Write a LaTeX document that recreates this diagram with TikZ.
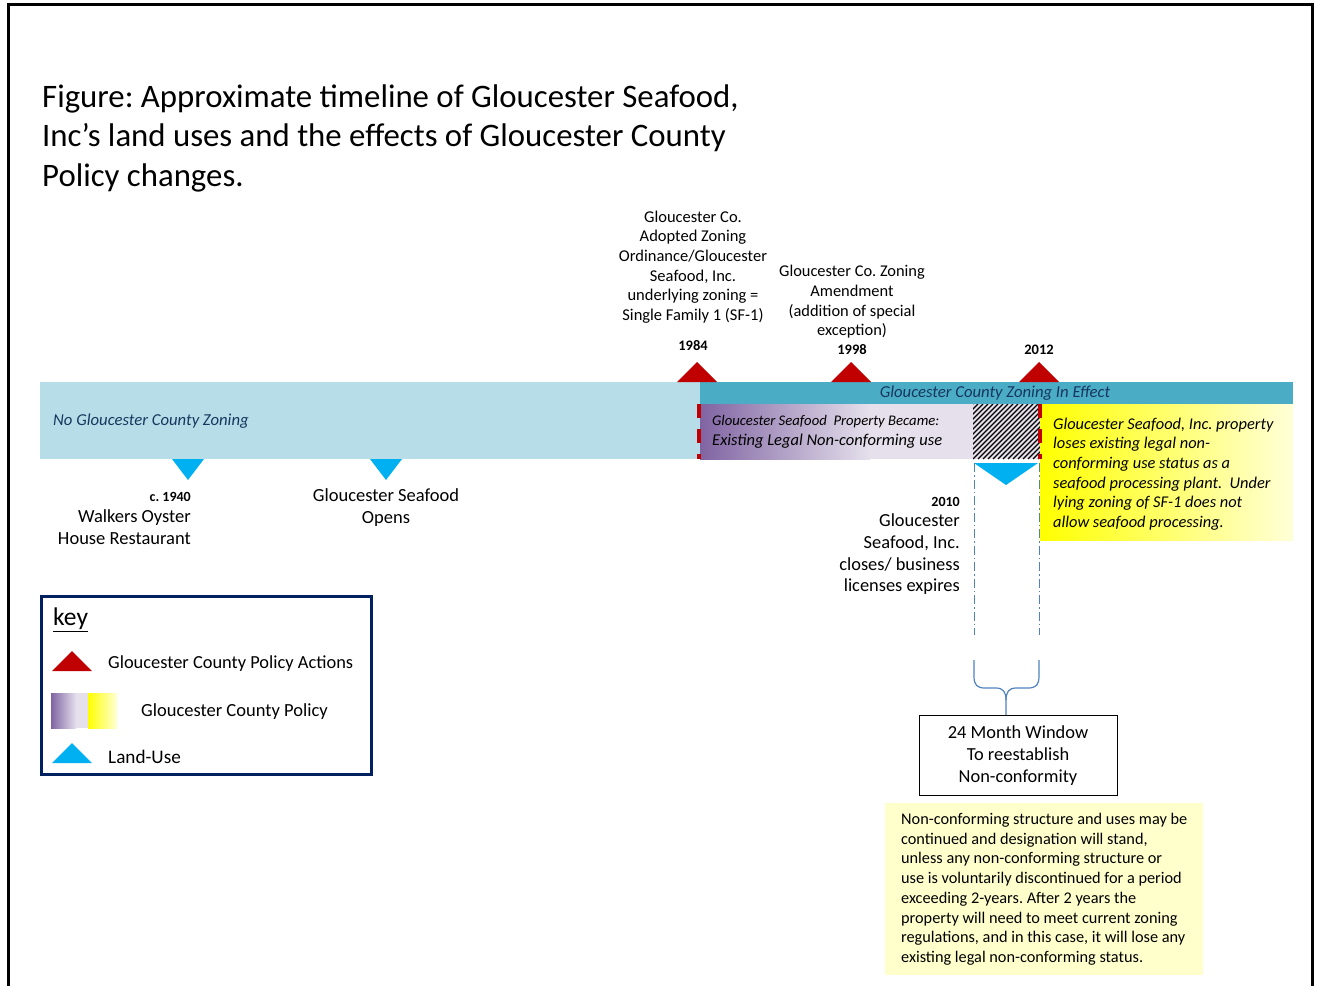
\documentclass[tikz,border=0pt]{standalone}
\usepackage{fontspec}
\setmainfont{Carlito}
\frenchspacing
\definecolor{lightbar}{HTML}{B7DEE8}
\definecolor{tealbar}{HTML}{4BACC6}
\definecolor{navytext}{HTML}{17375E}
\definecolor{purpleA}{HTML}{8064A2}
\definecolor{lav}{HTML}{E5E0EC}
\definecolor{polred}{HTML}{C00000}
\definecolor{landblue}{HTML}{00B0F0}
\definecolor{dashblue}{HTML}{4F81BD}
\definecolor{noteyellow}{HTML}{FFFFCC}
\definecolor{paleyellow}{HTML}{FFFFD8}
\definecolor{keynavy}{HTML}{002060}
\tikzset{
  lbl/.style={inner sep=0pt, text=black},
  yearlbl/.style={inner sep=0pt, font=\fontsize{14.5}{17}\selectfont\bfseries},
  bartext/.style={inner sep=0pt, text=navytext, font=\fontsize{16.7}{19.6}\selectfont\itshape},
  redtri/.style={fill=polred},
  bluetri/.style={fill=landblue},
  reddash/.style={draw=polred, line width=3.5pt, dash pattern=on 14pt off 11pt},
  dashdot/.style={draw=dashblue, line width=0.9pt, dash pattern=on 9pt off 3pt on 1.5pt off 3pt},
  bracestyle/.style={draw=dashblue, line width=1.2pt},
  hatchline/.style={draw=black, line width=1.1pt},
}
\begin{document}
\begin{tikzpicture}[x=1pt,y=-1pt]
\useasboundingbox (0,0) rectangle (1317,986);
% frame
\draw[line width=3pt] (8,986) -- (8,4) -- (1312.5,4) -- (1312.5,986);
% title
\node[lbl, anchor=west, align=left, font=\fontsize{32.8}{39.5}\selectfont] (title) at (42,138)
 {Figure: Approximate timeline of Gloucester Seafood,\\Inc’s land uses and the effects of Gloucester County\\Policy changes.};
% bars
\fill[lightbar] (40,382) rectangle (700,459);
\fill[tealbar] (700,382) rectangle (1293,404);
\shade[left color=purpleA, right color=lav] (700,404) rectangle (870,459);
\fill[lav] (869,404) rectangle (973,459);
\fill[lav] (973,404) rectangle (1040,459);
\begin{scope}
\clip (973,404) rectangle (1040,459);
\foreach \k in {0,5,...,130}
  \draw[hatchline] (918+\k,459) -- (973+\k,404);
\end{scope}
\shade[left color=yellow, right color=paleyellow] (1040,404) rectangle (1293,540);
\draw[reddash] (699,404) -- (699,459);
\draw[reddash] (1040,404) -- (1040,459);
% bar texts
\node[bartext, anchor=west] (nozone) at (53,421) {No Gloucester County Zoning};
\node[bartext, anchor=center] (ineffect) at (995,393.5) {Gloucester County Zoning In Effect};
\node[inner sep=0pt, anchor=west, font=\fontsize{14.7}{17}\selectfont\itshape] (became) at (712,421.5) {Gloucester Seafood\ \ Property Became:};
\node[inner sep=0pt, anchor=west, font=\fontsize{16.5}{19}\selectfont\itshape] (existing) at (712,441) {Existing Legal Non-conforming use};
\node[inner sep=0pt, anchor=west, align=left, font=\fontsize{16.4}{19.6}\selectfont\itshape] (loses) at (1053,474)
 {Gloucester Seafood, Inc. property\\loses existing legal non-\\conforming use status as a\\seafood processing plant.\ \ Under\\lying zoning of SF-1 does not\\allow seafood processing.};
% policy triangles
\fill[redtri] (677,382) -- (697,362) -- (717,382) -- cycle;
\fill[redtri] (831,382) -- (851,362) -- (871,382) -- cycle;
\fill[redtri] (1019,382) -- (1039,362) -- (1059,382) -- cycle;
\node[yearlbl] (y1984) at (693,345.5) {1984};
\node[yearlbl] (y1998) at (852,349.5) {1998};
\node[yearlbl] (y2012) at (1039,349.5) {2012};
\node[lbl, align=center, font=\fontsize{16.5}{19.7}\selectfont] (t1984) at (693,267)
 {Gloucester Co.\\Adopted Zoning\\Ordinance/Gloucester\\Seafood, Inc.\\underlying zoning =\\Single Family 1 (SF-1)};
\node[lbl, align=center, font=\fontsize{16.4}{19.7}\selectfont] (t1998) at (852,302)
 {Gloucester Co. Zoning\\Amendment\\(addition of special\\exception)};
% land-use triangles
\fill[bluetri] (172,459) -- (204,459) -- (188,480) -- cycle;
\fill[bluetri] (370,459) -- (402,459) -- (386,480) -- cycle;
\fill[bluetri] (974,463) -- (1038,463) -- (1006,485) -- cycle;
\node[inner sep=0pt, anchor=east, font=\fontsize{14}{16}\selectfont\bfseries] (y1940) at (191,496.5) {c. 1940};
\node[lbl, anchor=east, align=right, font=\fontsize{18.5}{22}\selectfont] (walkers) at (191,527) {Walkers Oyster\\House Restaurant};
\node[lbl, align=center, font=\fontsize{18.5}{22}\selectfont] (opens) at (386,508) {Gloucester Seafood\\Opens};
\node[inner sep=0pt, anchor=east, font=\fontsize{14}{16}\selectfont\bfseries] (y2010) at (960,501.5) {2010};
\node[lbl, anchor=east, align=right, font=\fontsize{18.4}{21.7}\selectfont] (closes) at (960,554.5)
 {Gloucester\\Seafood, Inc.\\closes/ business\\licenses expires};
% window
\coordinate (wl) at (974,463);
\coordinate (wr) at (1039,463);
\draw[dashdot] (wl) -- (974,635);
\draw[dashdot] (wr) -- (1039,635);
\node[draw=black, line width=1pt, minimum width=198pt, minimum height=80pt, align=center, inner sep=0pt,
      font=\fontsize{18.4}{22}\selectfont] (window) at (1018,755.5) {24 Month Window\\To reestablish\\Non-conformity};
\coordinate (bl) at (974,660);
\coordinate (br) at (1039,660);
\draw[bracestyle] (bl) -- (974,676) .. controls (974,685) and (977,688) .. (985,688) -- (996,688)
   .. controls (1003,688) and (1006,692) .. (1006,700) -- (window.north -| 1006,715);
\draw[bracestyle] (br) -- (1039,676) .. controls (1039,685) and (1036,688) .. (1028,688) -- (1016,688)
   .. controls (1009,688) and (1006,692) .. (1006,700);
% note
\node[fill=noteyellow, anchor=north west, minimum width=318pt, inner sep=0pt,
      minimum height=172pt, align=left, font=\fontsize{16.3}{19.7}\selectfont] (note) at (885,803)
 {Non-conforming structure and uses may be\\continued and designation will stand,\\unless any non-conforming structure or\\use is voluntarily discontinued for a period\\exceeding 2-years. After 2 years the\\property will need to meet current zoning\\regulations, and in this case, it will lose any\\existing legal non-conforming status.};
% key
\node[draw=keynavy, line width=3pt, minimum width=330pt, minimum height=178pt, anchor=north west, inner sep=0pt] (keybox) at (40,595) {};
\node[inner sep=0pt, anchor=west, font=\fontsize{25.5}{28}\selectfont] (keytitle) at (53,620) {\underline{key}};
\fill[redtri] (52,671) -- (72,651) -- (92,671) -- cycle;
\node[inner sep=0pt, anchor=west, font=\fontsize{18.4}{21}\selectfont] (k1) at (108,663.5) {Gloucester County Policy Actions};
\shade[left color=purpleA, right color=lav] (51,693) rectangle (76,728);
\fill[lav] (75.5,693) rectangle (88,728);
\shade[left color=yellow, right color=paleyellow] (88,693) rectangle (117,728);
\node[inner sep=0pt, anchor=west, font=\fontsize{18.5}{21}\selectfont] (k2) at (141,711.5) {Gloucester County Policy};
\fill[bluetri] (52,763) -- (72,743) -- (92,763) -- cycle;
\node[inner sep=0pt, anchor=west, font=\fontsize{19.2}{22}\selectfont] (k3) at (108,756.5) {Land-Use};
\end{tikzpicture}
\end{document}
